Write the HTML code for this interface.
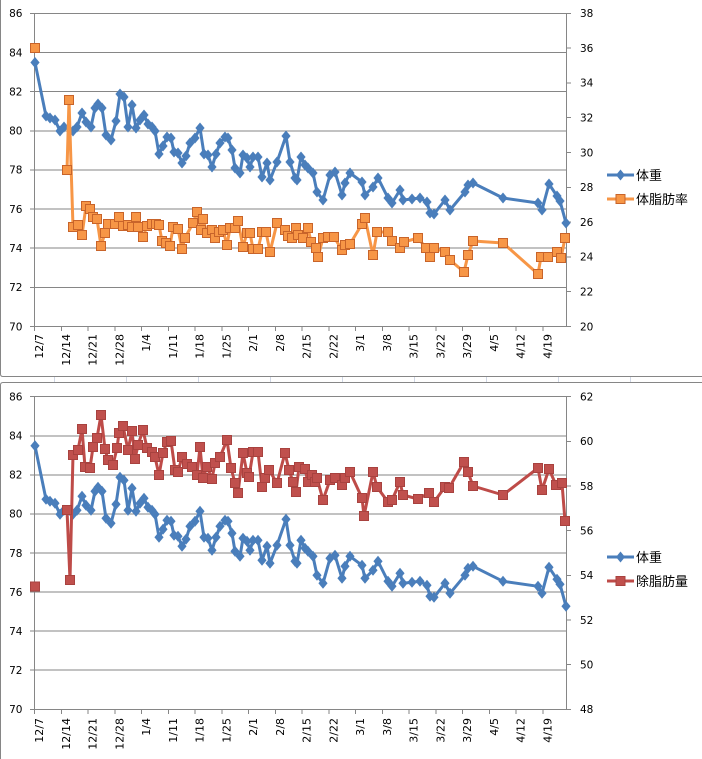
<!DOCTYPE html>
<html><head><meta charset="utf-8"><style>
html,body{margin:0;padding:0;background:#fff;}
svg{display:block;}
text{font-family:"DejaVu Sans","Liberation Sans",sans-serif;fill:#000;}
.lg{font-family:"Liberation Sans","Noto Sans CJK JP",sans-serif;font-size:13px;}
</style></head><body>
<svg width="702" height="759" viewBox="0 0 702 759" xmlns="http://www.w3.org/2000/svg">
<defs>
<marker id="dia" markerWidth="12" markerHeight="12" refX="6" refY="6" markerUnits="userSpaceOnUse" orient="0" overflow="visible"><path d="M6,0.5 L10.6,6 L6,11.5 L1.4,6Z" fill="#4a7ebb"/></marker>
<marker id="sqo" markerWidth="12" markerHeight="12" refX="6" refY="6" markerUnits="userSpaceOnUse" orient="0" overflow="visible"><rect x="1.5" y="1.5" width="9" height="9" fill="#f79646" stroke="#c8642a" stroke-width="1"/></marker>
<marker id="sqr" markerWidth="12" markerHeight="12" refX="6" refY="6" markerUnits="userSpaceOnUse" orient="0" overflow="visible"><rect x="1.5" y="1.5" width="9" height="9" fill="#c0504d" stroke="#a8423f" stroke-width="1"/></marker>
<polyline id="blue" fill="none" stroke="#4a7ebb" stroke-width="3" stroke-linejoin="round" marker-start="url(#dia)" marker-mid="url(#dia)" marker-end="url(#dia)" points="35,62.5 46,116 50,118 55,120 60,131 64,127 73,131 77,127 82,113 86,122 91,127 95,108 98,104 102,108 106,135 111,140 116,121 120,94 124,97 128,127 132,105 136,128 140,120 144,115 148,124 152,127 155,131 159,154 163,146 167,137 171,138 174,152 178,153 182,163 186,156 190,143 195,138 200,128 204,154 208,155 212,167 216,154 220,143 225,137 228,138 232,150 235,168 240,173 243,155 247,158 250,167 253,157 258,157 262,177 267,163 270,180 277,162 286,136 290,162 295,178 297,180 301,157 305,165 308,168 313,173 317,192 323,200 330,175 335,172 342,195 345,183 350,173 362,182 365,195 373,187 378,178 388,198 392,203 400,190 403,200 412,199 420,198 427,202 430,213 434,214 445,200 450,210 465,192 468,185 473,183 503,198 538,203 542,210 549,184 557,196 560,201 566,223"/>
</defs>

<!-- spreadsheet strip between charts -->
<rect x="0" y="376" width="702" height="7" fill="#fff"/>
<g stroke="#d0d7e5" stroke-width="1">
<line x1="54.5" y1="377" x2="54.5" y2="382"/><line x1="126.5" y1="377" x2="126.5" y2="382"/><line x1="198.5" y1="377" x2="198.5" y2="382"/><line x1="270.5" y1="377" x2="270.5" y2="382"/><line x1="342.5" y1="377" x2="342.5" y2="382"/><line x1="414.5" y1="377" x2="414.5" y2="382"/><line x1="486.5" y1="377" x2="486.5" y2="382"/><line x1="558.5" y1="377" x2="558.5" y2="382"/><line x1="630.5" y1="377" x2="630.5" y2="382"/>
</g>
<!-- chart borders -->
<g stroke="#868686" stroke-width="1" fill="none">
<path d="M0.5,0 L0.5,374 Q0.5,376.5 3,376.5 L702,376.5"/>
<path d="M702,382.5 L3,382.5 Q0.5,382.5 0.5,385 L0.5,759"/>
</g>

<!-- ============ CHART 1 ============ -->
<g stroke="#868686" stroke-width="1" shape-rendering="crispEdges">
<line x1="34.7" y1="13.3" x2="566.7" y2="13.3"/>
<line x1="34.7" y1="52.45" x2="566.7" y2="52.45"/>
<line x1="34.7" y1="91.6" x2="566.7" y2="91.6"/>
<line x1="34.7" y1="130.75" x2="566.7" y2="130.75"/>
<line x1="34.7" y1="169.9" x2="566.7" y2="169.9"/>
<line x1="34.7" y1="209.05" x2="566.7" y2="209.05"/>
<line x1="34.7" y1="248.2" x2="566.7" y2="248.2"/>
<line x1="34.7" y1="287.35" x2="566.7" y2="287.35"/>
<line x1="34.7" y1="326.5" x2="566.7" y2="326.5"/>
<line x1="34.7" y1="13.3" x2="34.7" y2="326.5"/>
<line x1="566.7" y1="13.3" x2="566.7" y2="326.5"/>
<!-- left ticks -->
<line x1="30" y1="13.3" x2="34.7" y2="13.3"/><line x1="30" y1="52.45" x2="34.7" y2="52.45"/><line x1="30" y1="91.6" x2="34.7" y2="91.6"/><line x1="30" y1="130.75" x2="34.7" y2="130.75"/><line x1="30" y1="169.9" x2="34.7" y2="169.9"/><line x1="30" y1="209.05" x2="34.7" y2="209.05"/><line x1="30" y1="248.2" x2="34.7" y2="248.2"/><line x1="30" y1="287.35" x2="34.7" y2="287.35"/><line x1="30" y1="326.5" x2="34.7" y2="326.5"/>
<!-- right ticks -->
<line x1="566.7" y1="13.3" x2="571" y2="13.3"/><line x1="566.7" y1="48.1" x2="571" y2="48.1"/><line x1="566.7" y1="82.9" x2="571" y2="82.9"/><line x1="566.7" y1="117.7" x2="571" y2="117.7"/><line x1="566.7" y1="152.5" x2="571" y2="152.5"/><line x1="566.7" y1="187.3" x2="571" y2="187.3"/><line x1="566.7" y1="222.1" x2="571" y2="222.1"/><line x1="566.7" y1="256.9" x2="571" y2="256.9"/><line x1="566.7" y1="291.7" x2="571" y2="291.7"/><line x1="566.7" y1="326.5" x2="571" y2="326.5"/>
<!-- x ticks -->
<line x1="34.7" y1="326.5" x2="34.7" y2="331"/><line x1="61.45" y1="326.5" x2="61.45" y2="331"/><line x1="88.2" y1="326.5" x2="88.2" y2="331"/><line x1="114.95" y1="326.5" x2="114.95" y2="331"/><line x1="141.7" y1="326.5" x2="141.7" y2="331"/><line x1="168.45" y1="326.5" x2="168.45" y2="331"/><line x1="195.2" y1="326.5" x2="195.2" y2="331"/><line x1="221.95" y1="326.5" x2="221.95" y2="331"/><line x1="248.7" y1="326.5" x2="248.7" y2="331"/><line x1="275.45" y1="326.5" x2="275.45" y2="331"/><line x1="302.2" y1="326.5" x2="302.2" y2="331"/><line x1="328.95" y1="326.5" x2="328.95" y2="331"/><line x1="355.7" y1="326.5" x2="355.7" y2="331"/><line x1="382.45" y1="326.5" x2="382.45" y2="331"/><line x1="409.2" y1="326.5" x2="409.2" y2="331"/><line x1="435.95" y1="326.5" x2="435.95" y2="331"/><line x1="462.7" y1="326.5" x2="462.7" y2="331"/><line x1="489.45" y1="326.5" x2="489.45" y2="331"/><line x1="516.2" y1="326.5" x2="516.2" y2="331"/><line x1="542.95" y1="326.5" x2="542.95" y2="331"/>
</g>
<g font-size="10.5" text-anchor="end">
<text x="22.5" y="17.1">86</text><text x="22.5" y="56.25">84</text><text x="22.5" y="95.4">82</text><text x="22.5" y="134.55">80</text><text x="22.5" y="173.7">78</text><text x="22.5" y="212.85">76</text><text x="22.5" y="252">74</text><text x="22.5" y="291.15">72</text><text x="22.5" y="330.3">70</text>
</g>
<g font-size="10.5">
<text x="580" y="17.1">38</text><text x="580" y="51.9">36</text><text x="580" y="86.7">34</text><text x="580" y="121.5">32</text><text x="580" y="156.3">30</text><text x="580" y="191.1">28</text><text x="580" y="225.9">26</text><text x="580" y="260.7">24</text><text x="580" y="295.5">22</text><text x="580" y="330.3">20</text>
</g>
<g font-size="11" text-anchor="end">
<text transform="translate(43.2,334) rotate(-90)">12/7</text>
<text transform="translate(69.95,334) rotate(-90)">12/14</text>
<text transform="translate(96.7,334) rotate(-90)">12/21</text>
<text transform="translate(123.45,334) rotate(-90)">12/28</text>
<text transform="translate(150.2,334) rotate(-90)">1/4</text>
<text transform="translate(176.95,334) rotate(-90)">1/11</text>
<text transform="translate(203.7,334) rotate(-90)">1/18</text>
<text transform="translate(230.45,334) rotate(-90)">1/25</text>
<text transform="translate(257.2,334) rotate(-90)">2/1</text>
<text transform="translate(283.95,334) rotate(-90)">2/8</text>
<text transform="translate(310.7,334) rotate(-90)">2/15</text>
<text transform="translate(337.45,334) rotate(-90)">2/22</text>
<text transform="translate(364.2,334) rotate(-90)">3/1</text>
<text transform="translate(390.95,334) rotate(-90)">3/8</text>
<text transform="translate(417.7,334) rotate(-90)">3/15</text>
<text transform="translate(444.45,334) rotate(-90)">3/22</text>
<text transform="translate(471.2,334) rotate(-90)">3/29</text>
<text transform="translate(497.95,334) rotate(-90)">4/5</text>
<text transform="translate(524.7,334) rotate(-90)">4/12</text>
<text transform="translate(551.45,334) rotate(-90)">4/19</text>
</g>
<use href="#blue"/>
<polyline fill="none" stroke="#f79646" stroke-width="3" stroke-linejoin="round" marker-start="url(#sqo)" marker-mid="url(#sqo)" marker-end="url(#sqo)" points="67,170 69,100 73,227 78,225 82,235 86,206 90,209 93,217 97,219 101,246 105,233 108,224 115,224 119,217 123,226 128,225 132,227 136,217 138,227 143,237 147,226 152,224 156,224 159,225 162,241 166,243 170,246 173,227 178,229 182,249 185,238 193,223 197,212 201,230 203,219 207,233 212,230 215,238 219,232 223,230 227,245 230,228 235,228 238,221 243,247 247,233 250,233 253,249 258,249 262,232 266,232 270,252 277,223 285,230 288,236 292,238 296,228 298,235 303,238 308,228 311,242 316,248 318,257 323,238 328,237 334,237 342,250 345,245 350,244 362,224 365,218 373,255 377,232 388,232 392,241 400,248 404,242 418,238 426,248 430,257 434,248 445,252 450,260 464,272 468,255 473,241 503,243 538,274 541,257 548,257 557,252 561,258 565,238"/>
<rect x="30.5" y="43.5" width="9" height="9" fill="#f79646" stroke="#c8642a" stroke-width="1"/>
<!-- legend 1 -->
<line x1="607" y1="175" x2="634" y2="175" stroke="#4a7ebb" stroke-width="3"/>
<path d="M620.5,169.5 L625,175 L620.5,180.5 L616,175Z" fill="#4a7ebb"/>
<text class="lg" x="636" y="179.8">体重</text>
<line x1="607" y1="199" x2="634" y2="199" stroke="#f79646" stroke-width="3"/>
<rect x="616" y="194.5" width="9" height="9" fill="#f79646" stroke="#c8642a" stroke-width="1"/>
<text class="lg" x="636" y="203.8">体脂肪率</text>

<!-- ============ CHART 2 ============ -->
<g stroke="#868686" stroke-width="1" shape-rendering="crispEdges">
<line x1="34.7" y1="396.7" x2="566.7" y2="396.7"/>
<line x1="34.7" y1="435.8" x2="566.7" y2="435.8"/>
<line x1="34.7" y1="474.9" x2="566.7" y2="474.9"/>
<line x1="34.7" y1="513.9" x2="566.7" y2="513.9"/>
<line x1="34.7" y1="553" x2="566.7" y2="553"/>
<line x1="34.7" y1="592.1" x2="566.7" y2="592.1"/>
<line x1="34.7" y1="631.2" x2="566.7" y2="631.2"/>
<line x1="34.7" y1="670.2" x2="566.7" y2="670.2"/>
<line x1="34.7" y1="709.3" x2="566.7" y2="709.3"/>
<line x1="34.7" y1="396.7" x2="34.7" y2="709.3"/>
<line x1="566.7" y1="396.7" x2="566.7" y2="709.3"/>
<line x1="30" y1="396.7" x2="34.7" y2="396.7"/><line x1="30" y1="435.8" x2="34.7" y2="435.8"/><line x1="30" y1="474.9" x2="34.7" y2="474.9"/><line x1="30" y1="513.9" x2="34.7" y2="513.9"/><line x1="30" y1="553" x2="34.7" y2="553"/><line x1="30" y1="592.1" x2="34.7" y2="592.1"/><line x1="30" y1="631.2" x2="34.7" y2="631.2"/><line x1="30" y1="670.2" x2="34.7" y2="670.2"/><line x1="30" y1="709.3" x2="34.7" y2="709.3"/>
<line x1="566.7" y1="396.7" x2="571" y2="396.7"/><line x1="566.7" y1="441.4" x2="571" y2="441.4"/><line x1="566.7" y1="486" x2="571" y2="486"/><line x1="566.7" y1="530.7" x2="571" y2="530.7"/><line x1="566.7" y1="575.3" x2="571" y2="575.3"/><line x1="566.7" y1="620" x2="571" y2="620"/><line x1="566.7" y1="664.7" x2="571" y2="664.7"/><line x1="566.7" y1="709.3" x2="571" y2="709.3"/>
<line x1="34.7" y1="709.3" x2="34.7" y2="714"/><line x1="61.45" y1="709.3" x2="61.45" y2="714"/><line x1="88.2" y1="709.3" x2="88.2" y2="714"/><line x1="114.95" y1="709.3" x2="114.95" y2="714"/><line x1="141.7" y1="709.3" x2="141.7" y2="714"/><line x1="168.45" y1="709.3" x2="168.45" y2="714"/><line x1="195.2" y1="709.3" x2="195.2" y2="714"/><line x1="221.95" y1="709.3" x2="221.95" y2="714"/><line x1="248.7" y1="709.3" x2="248.7" y2="714"/><line x1="275.45" y1="709.3" x2="275.45" y2="714"/><line x1="302.2" y1="709.3" x2="302.2" y2="714"/><line x1="328.95" y1="709.3" x2="328.95" y2="714"/><line x1="355.7" y1="709.3" x2="355.7" y2="714"/><line x1="382.45" y1="709.3" x2="382.45" y2="714"/><line x1="409.2" y1="709.3" x2="409.2" y2="714"/><line x1="435.95" y1="709.3" x2="435.95" y2="714"/><line x1="462.7" y1="709.3" x2="462.7" y2="714"/><line x1="489.45" y1="709.3" x2="489.45" y2="714"/><line x1="516.2" y1="709.3" x2="516.2" y2="714"/><line x1="542.95" y1="709.3" x2="542.95" y2="714"/>
</g>
<g font-size="10.5" text-anchor="end">
<text x="22.5" y="400.5">86</text><text x="22.5" y="439.6">84</text><text x="22.5" y="478.7">82</text><text x="22.5" y="517.7">80</text><text x="22.5" y="556.8">78</text><text x="22.5" y="595.9">76</text><text x="22.5" y="635">74</text><text x="22.5" y="674">72</text><text x="22.5" y="713.1">70</text>
</g>
<g font-size="10.5">
<text x="580" y="400.5">62</text><text x="580" y="445.2">60</text><text x="580" y="489.8">58</text><text x="580" y="534.5">56</text><text x="580" y="579.1">54</text><text x="580" y="623.8">52</text><text x="580" y="668.5">50</text><text x="580" y="713.1">48</text>
</g>
<g font-size="11" text-anchor="end">
<text transform="translate(43.2,718) rotate(-90)">12/7</text>
<text transform="translate(69.95,718) rotate(-90)">12/14</text>
<text transform="translate(96.7,718) rotate(-90)">12/21</text>
<text transform="translate(123.45,718) rotate(-90)">12/28</text>
<text transform="translate(150.2,718) rotate(-90)">1/4</text>
<text transform="translate(176.95,718) rotate(-90)">1/11</text>
<text transform="translate(203.7,718) rotate(-90)">1/18</text>
<text transform="translate(230.45,718) rotate(-90)">1/25</text>
<text transform="translate(257.2,718) rotate(-90)">2/1</text>
<text transform="translate(283.95,718) rotate(-90)">2/8</text>
<text transform="translate(310.7,718) rotate(-90)">2/15</text>
<text transform="translate(337.45,718) rotate(-90)">2/22</text>
<text transform="translate(364.2,718) rotate(-90)">3/1</text>
<text transform="translate(390.95,718) rotate(-90)">3/8</text>
<text transform="translate(417.7,718) rotate(-90)">3/15</text>
<text transform="translate(444.45,718) rotate(-90)">3/22</text>
<text transform="translate(471.2,718) rotate(-90)">3/29</text>
<text transform="translate(497.95,718) rotate(-90)">4/5</text>
<text transform="translate(524.7,718) rotate(-90)">4/12</text>
<text transform="translate(551.45,718) rotate(-90)">4/19</text>
</g>
<use href="#blue" transform="translate(0,383.3)"/>
<polyline fill="none" stroke="#be4b48" stroke-width="3" stroke-linejoin="round" marker-start="url(#sqr)" marker-mid="url(#sqr)" marker-end="url(#sqr)" points="67,510 70,580 73,455 78,450 82,429 85,467 90,468 93,447 97,438 101,415 105,449 108,460 113,465 117,448 119,433 123,426 128,450 132,431 135,459 138,445 143,430 147,448 152,452 155,457 159,475 163,453 167,442 171,441 175,470 178,472 182,457 187,464 192,467 197,475 200,447 203,478 207,467 212,479 215,463 220,457 227,440 231,468 235,483 238,493 243,453 247,473 249,477 253,452 258,452 262,487 265,478 269,470 277,483 285,453 289,470 293,482 296,492 299,467 305,469 308,482 312,475 315,482 317,478 323,500 330,480 335,478 342,485 345,478 350,472 362,498 364,516 373,472 377,487 388,502 392,500 400,482 403,495 418,499 429,493 434,502 445,487 449,488 464,462 468,472 473,486 503,495 538,468 542,490 549,469 556,485 562,483 565,521"/>
<rect x="30.5" y="582" width="9" height="9" fill="#c0504d" stroke="#a8423f" stroke-width="1"/>
<!-- legend 2 -->
<line x1="607" y1="557" x2="634" y2="557" stroke="#4a7ebb" stroke-width="3"/>
<path d="M620.5,551.5 L625,557 L620.5,562.5 L616,557Z" fill="#4a7ebb"/>
<text class="lg" x="636" y="561.8">体重</text>
<line x1="607" y1="581" x2="634" y2="581" stroke="#be4b48" stroke-width="3"/>
<rect x="616" y="576.5" width="9" height="9" fill="#c0504d" stroke="#a8423f" stroke-width="1"/>
<text class="lg" x="636" y="585.8">除脂肪量</text>
</svg>
</body></html>
